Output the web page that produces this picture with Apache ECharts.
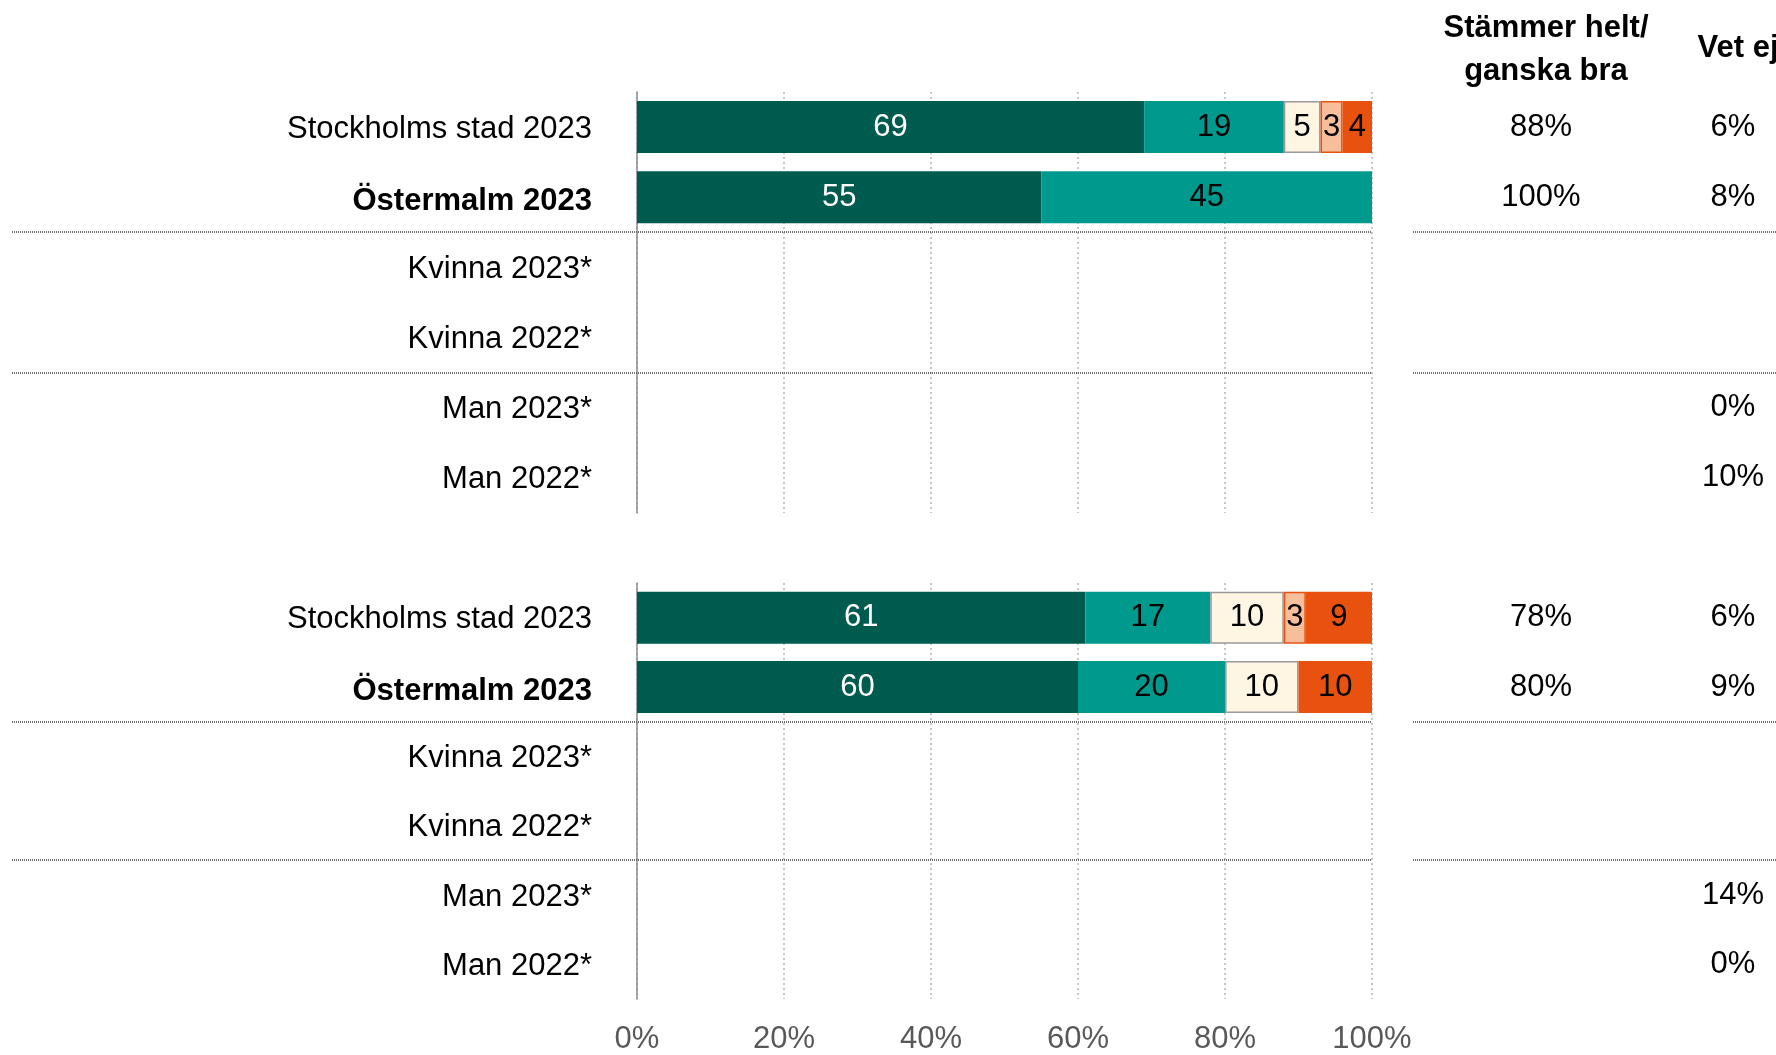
<!DOCTYPE html>
<html>
<head>
<meta charset="utf-8">
<script src="https://cdn.jsdelivr.net/npm/echarts@6/dist/echarts.min.js"></script>
<style>
  html, body { margin: 0; padding: 0; background: #fff; }
  #chart { width: 1776px; height: 1055px; }
</style>
</head>
<body>
<div id="chart"></div>
<script>
// kategorier (samma i båda grupperna)
const categories = ["Stockholms stad 2023", "Östermalm 2023", "Kvinna 2023*", "Kvinna 2022*", "Man 2023*", "Man 2022*"];
const boldCategory = "Östermalm 2023";
const seriesNames = ["Stämmer helt", "Stämmer ganska bra", "Varken eller", "Stämmer ganska dåligt", "Stämmer inte alls"];
const seriesColors = ["#005B4F", "#00998E", "#FFF5E3", "#F7BE9C", "#E9520E"];

// grupp 1
const g1Helt = [69, 55, null, null, null, null];
const g1Ganska = [19, 45, null, null, null, null];
const g1Varken = [5, 0, null, null, null, null];
const g1Daligt = [3, 0, null, null, null, null];
const g1Inte = [4, 0, null, null, null, null];
const g1Total = [88, 100, null, null, null, null];
const g1VetEj = [6, 8, null, null, 0, 10];

// grupp 2
const g2Helt = [61, 60, null, null, null, null];
const g2Ganska = [17, 20, null, null, null, null];
const g2Varken = [10, 10, null, null, null, null];
const g2Daligt = [3, 0, null, null, null, null];
const g2Inte = [9, 10, null, null, null, null];
const g2Total = [78, 80, null, null, null, null];
const g2VetEj = [6, 9, null, null, 14, 0];

const FONT = '"Liberation Sans", Arial, sans-serif';
const FS = 31;

let myChart = echarts.init(document.getElementById("chart"));

function pct(arr) {
  return function (v, i) {
    return arr[i] == null ? "" : arr[i] + "%";
  };
}

function makeSeries(values, gi) {
  return values.map(function (vals, si) {
    let border = {};
    if (si === 2) border = { borderColor: "#9a9a9a", borderWidth: 1.5 };
    if (si === 3) border = { borderColor: "#E8520F", borderWidth: 1.5 };
    return {
      name: seriesNames[si],
      type: "bar",
      stack: "g" + gi,
      xAxisIndex: gi,
      yAxisIndex: gi * 3,
      barWidth: 52,
      itemStyle: Object.assign({ color: seriesColors[si] }, border),
      label: {
        show: true,
        position: "inside",
        fontFamily: FONT,
        fontSize: FS,
        padding: [3, 0, 0, 0],
        color: si === 0 ? "#fff" : "#000",
        formatter: function (p) { return p.value ? p.value : ""; },
      },
      data: vals.map(function (v) { return v === 0 ? "-" : v; }),
    };
  });
}

function yAxes(gi, total, vetEj) {
  const base = {
    type: "category",
    gridIndex: gi,
    inverse: true,
    data: categories,
    axisTick: { show: false },
  };
  const lbl = { fontFamily: FONT, fontSize: FS, color: "#000", padding: [4, 0, 0, 0] };
  return [
    Object.assign({}, base, {
      axisLine: { show: true, lineStyle: { color: "#8c8c8c", width: 1.5 } },
      axisLabel: Object.assign({}, lbl, {
        margin: 45,
        formatter: function (v) { return v === boldCategory ? "{b|" + v + "}" : v; },
        rich: { b: { fontFamily: FONT, fontSize: FS, fontWeight: "bold", color: "#000", padding: [4, 0, 0, 0] } },
      }),
    }),
    Object.assign({}, base, {
      position: "right",
      offset: 169,
      axisLine: { show: false },
      axisLabel: Object.assign({}, lbl, { margin: 0, align: "center", formatter: pct(total) }),
    }),
    Object.assign({}, base, {
      position: "right",
      offset: 361,
      axisLine: { show: false },
      axisLabel: Object.assign({}, lbl, { margin: 0, align: "center", formatter: pct(vetEj) }),
    }),
  ];
}

function xAxis(gi, showLabels) {
  return {
    type: "value",
    gridIndex: gi,
    min: 0,
    max: 100,
    interval: 20,
    axisLine: { show: false },
    axisTick: { show: false },
    axisLabel: {
      show: showLabels,
      margin: 25,
      fontFamily: FONT,
      fontSize: FS,
      color: "#595959",
      formatter: "{value}%",
    },
    splitLine: { show: true, lineStyle: { type: [2, 3], color: "#b5b5b5", width: 1.5 } },
  };
}

let option = {
  animation: false,
  title: [
    {
      text: "Stämmer helt/\nganska bra",
      left: 1541,
      top: 2,
      textAlign: "center",
      textStyle: { fontFamily: FONT, fontSize: FS, fontWeight: "bold", color: "#000", lineHeight: 43 },
    },
    {
      text: "Vet ej",
      left: 1733,
      top: 28,
      textAlign: "center",
      textStyle: { fontFamily: FONT, fontSize: FS, fontWeight: "bold", color: "#000" },
    },
  ],
  grid: [
    { left: 637, right: 404, top: 92, height: 421 },
    { left: 637, right: 404, top: 583, height: 421 },
  ],
  xAxis: [xAxis(0, false), xAxis(1, true)],
  yAxis: yAxes(0, g1Total, g1VetEj).concat(yAxes(1, g2Total, g2VetEj)),
  series: makeSeries([g1Helt, g1Ganska, g1Varken, g1Daligt, g1Inte], 0)
    .concat(makeSeries([g2Helt, g2Ganska, g2Varken, g2Daligt, g2Inte], 1)),
};
myChart.setOption(option);

// avdelare mellan Östermalm/Kvinna och Kvinna/Man, från axelns positioner
const sepStyle = { stroke: "#6e6e6e", lineWidth: 2, lineDash: [1, 1] };
let seps = [];
[0, 3].forEach(function (yi) {
  [[1, 2], [3, 4]].forEach(function (pair) {
    const a = myChart.convertToPixel({ yAxisIndex: yi }, categories[pair[0]]);
    const b = myChart.convertToPixel({ yAxisIndex: yi }, categories[pair[1]]);
    const y = Math.round((a + b) / 2);
    seps.push({ type: "line", shape: { x1: 12, y1: y, x2: 1372, y2: y }, style: sepStyle, z: 10 });
    seps.push({ type: "line", shape: { x1: 1413, y1: y, x2: 1776, y2: y }, style: sepStyle, z: 10 });
  });
});
myChart.setOption({ graphic: seps });

window.addEventListener("resize", () => {
  myChart.resize();
});
</script>
</body>
</html>
